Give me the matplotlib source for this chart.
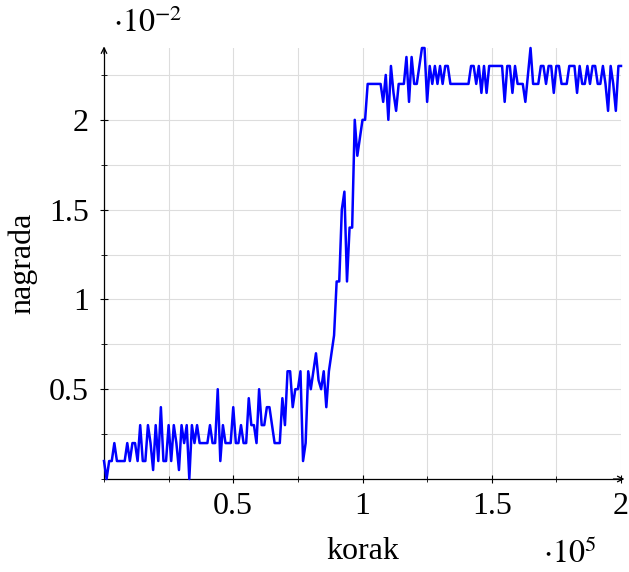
import numpy as np
import matplotlib
matplotlib.use("Agg")
import matplotlib.pyplot as plt
from matplotlib.ticker import MultipleLocator

plt.rcParams['font.family'] = ['Liberation Serif', 'DejaVu Serif']
plt.rcParams['mathtext.fontset'] = 'stix'

# reward per step (in units of 1e-2), one value every 1000 steps
reward = [
    0.1, 0, 0.1, 0.1, 0.2, 0.1, 0.1, 0.1, 0.1, 0.2,
    0.1, 0.2, 0.2, 0.1, 0.3, 0.1, 0.1, 0.3, 0.2, 0.05,
    0.3, 0.1, 0.4, 0.1, 0.1, 0.3, 0.1, 0.3, 0.2, 0.05,
    0.3, 0.2, 0.3, 0, 0.3, 0.2, 0.3, 0.2, 0.2, 0.2,
    0.2, 0.3, 0.2, 0.2, 0.5, 0.1, 0.3, 0.2, 0.2, 0.2,
    0.4, 0.2, 0.2, 0.3, 0.2, 0.2, 0.45, 0.3, 0.3, 0.2,
    0.5, 0.3, 0.3, 0.4, 0.4, 0.3, 0.2, 0.2, 0.2, 0.45,
    0.3, 0.6, 0.6, 0.4, 0.5, 0.5, 0.6, 0.1, 0.2, 0.6,
    0.5, 0.6, 0.7, 0.55, 0.5, 0.6, 0.4, 0.6, 0.7, 0.8,
    1.1, 1.1, 1.5, 1.6, 1.1, 1.4, 1.4, 2.0, 1.8, 1.9,
    2.0, 2.0, 2.2, 2.2, 2.2, 2.2, 2.2, 2.2, 2.1, 2.25,
    2.0, 2.3, 2.15, 2.05, 2.2, 2.2, 2.2, 2.35, 2.1, 2.35,
    2.2, 2.2, 2.3, 2.4, 2.4, 2.1, 2.3, 2.2, 2.3, 2.2,
    2.3, 2.2, 2.3, 2.3, 2.2, 2.2, 2.2, 2.2, 2.2, 2.2,
    2.2, 2.2, 2.3, 2.3, 2.2, 2.3, 2.15, 2.3, 2.15, 2.3,
    2.3, 2.3, 2.3, 2.3, 2.3, 2.1, 2.3, 2.3, 2.15, 2.3,
    2.2, 2.2, 2.2, 2.1, 2.25, 2.4, 2.2, 2.2, 2.2, 2.3,
    2.3, 2.2, 2.3, 2.3, 2.15, 2.3, 2.3, 2.2, 2.2, 2.2,
    2.3, 2.3, 2.3, 2.15, 2.3, 2.2, 2.2, 2.3, 2.2, 2.3,
    2.3, 2.2, 2.2, 2.3, 2.2, 2.05, 2.3, 2.2, 2.05, 2.3,
    2.3,
]
steps = np.arange(len(reward)) * 1000

x = steps / 1e5
y = np.array(reward)

fs = 23

fig = plt.figure(figsize=(6.29, 5.72), dpi=100)
ax = fig.add_axes([104/629, 1 - 479/572, 517/629, 431/572])

ax.plot(x, y, color=(0, 0, 1), lw=1.8, clip_on=False, zorder=3)

ax.set_xlim(0, 2)
ax.set_ylim(0, 2.4)
ax.xaxis.set_minor_locator(MultipleLocator(0.25))
ax.yaxis.set_minor_locator(MultipleLocator(0.25))
ax.set_xticks([0.5, 1, 1.5, 2])
ax.set_xticklabels(['0.5', '1', '1.5', '2'])
ax.set_yticks([0.5, 1, 1.5, 2])
ax.set_yticklabels(['0.5', '1', '1.5', '2'])

ax.grid(True, which='both', color='#dddddd', lw=0.8, zorder=0)
ax.set_axisbelow(True)
for s in ['top', 'right']:
    ax.spines[s].set_visible(False)
for s in ['left', 'bottom']:
    ax.spines[s].set_linewidth(0.9)
ax.tick_params(which='major', direction='inout', length=6, width=0.8, labelsize=fs, pad=6)
ax.tick_params(axis='y', which='major', pad=8)
ax.tick_params(which='minor', direction='inout', length=4, width=0.6)

# axis arrows
ax.annotate('', xy=(1.012, 0), xytext=(0.98, 0), xycoords='axes fraction',
            arrowprops=dict(arrowstyle='->', lw=0.9, color='black'))
ax.annotate('', xy=(0, 1.01), xytext=(0, 0.98), xycoords='axes fraction',
            arrowprops=dict(arrowstyle='->', lw=0.9, color='black'))

ax.set_xlabel('korak', fontsize=fs, labelpad=12)
ax.set_ylabel('nagrada', fontsize=fs, labelpad=8)

fig.text(113/629, 1 - 24/572, r'$\cdot 10^{-2}$', fontsize=fs, va='center', ha='left')
fig.text(543/629, 1 - 554/572, r'$\cdot 10^{5}$', fontsize=fs, va='center', ha='left')

fig.savefig('out.png', dpi=100)
